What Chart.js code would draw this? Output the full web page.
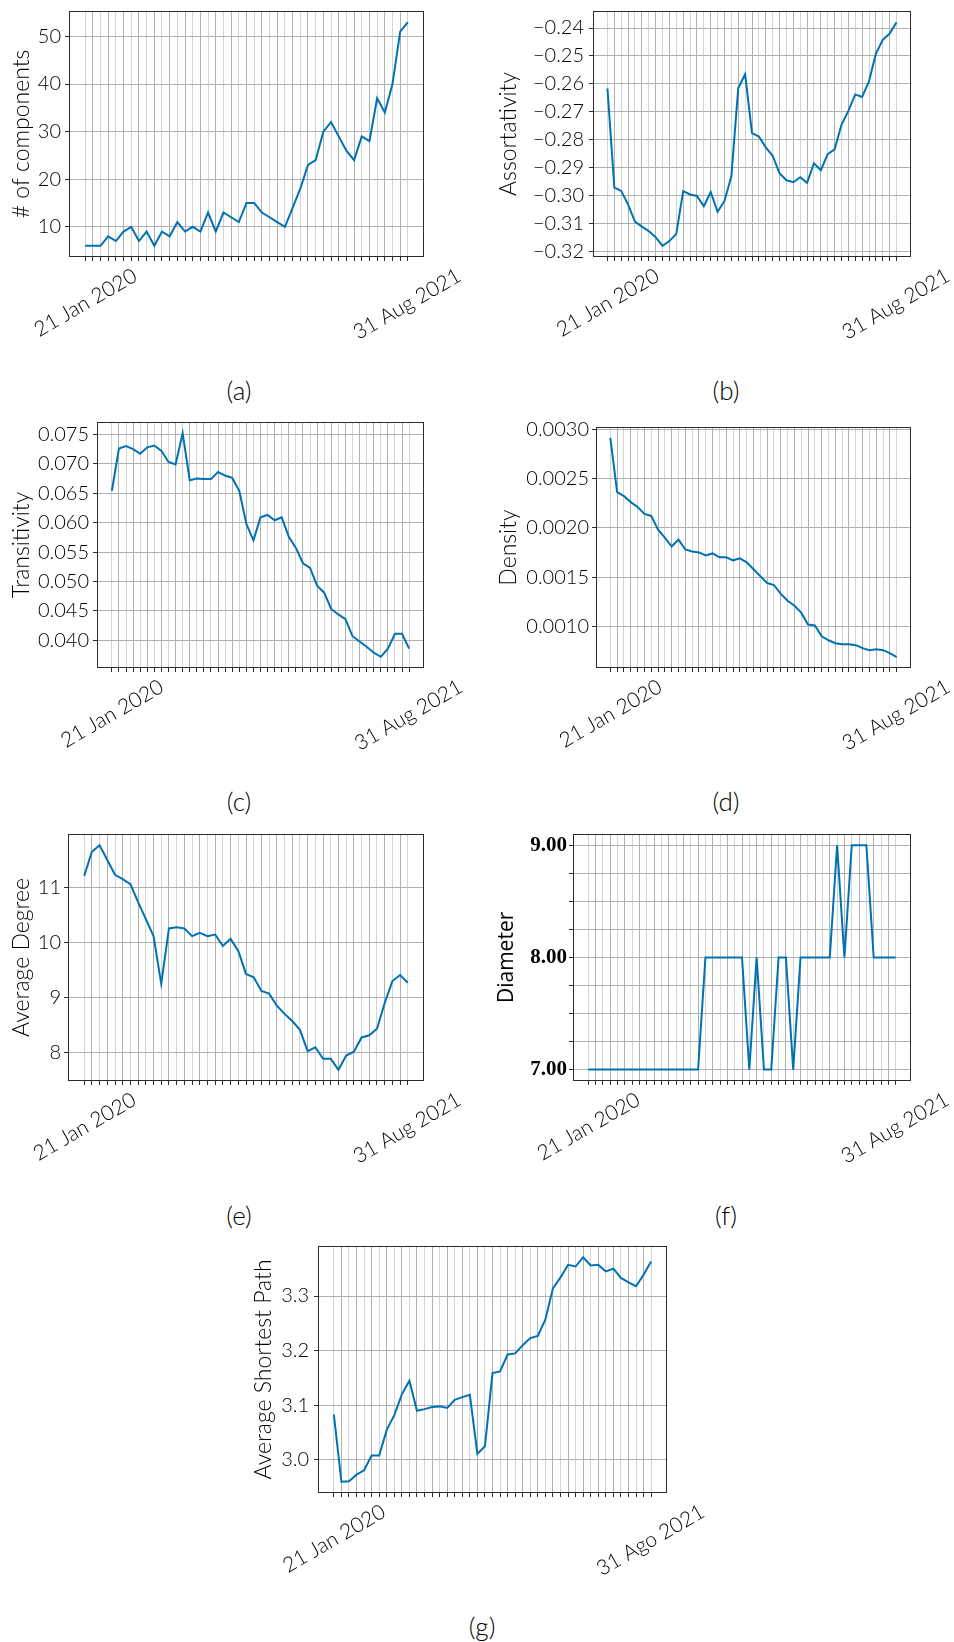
<!DOCTYPE html>
<html>
<head>
<meta charset="utf-8">
<script src="https://cdn.jsdelivr.net/npm/chart.js@4.4.1/dist/chart.umd.min.js"></script>
<style>
  html, body { margin: 0; padding: 0; background: #fff; }
  body { width: 954px; height: 1642px; position: relative; overflow: hidden; }
  canvas { position: absolute; }
  .cap { position: absolute; font-family: Lato, sans-serif; font-weight: 300; font-size: 26px;
         color: #000; transform: translate(-50%, -50%); white-space: nowrap; }
</style>
</head>
<body>
<div class="cap" style="left:239px;top:390px">(a)</div>
<div class="cap" style="left:726px;top:390px">(b)</div>
<div class="cap" style="left:239px;top:801px">(c)</div>
<div class="cap" style="left:726px;top:801px">(d)</div>
<div class="cap" style="left:239px;top:1215px">(e)</div>
<div class="cap" style="left:726px;top:1215px">(f)</div>
<div class="cap" style="left:482px;top:1626px">(g)</div>
<script>
// Snapshot index (one sample every ~2 weeks, 21 Jan 2020 → 31 Aug 2021)
const snapshots = Array.from({ length: 43 }, (_, i) => i);

// Tick labels on the time axis: first and last snapshot
const dateTickIdx = [0, 42];
const dateTickText = ['21 Jan 2020', '31 Aug 2021'];
const dateTickTextAlt = ['21 Jan 2020', '31 Ago 2021'];

// Network measures per snapshot
const components = [6, 6, 6, 8, 7, 9, 10, 7, 9, 6, 9, 8, 11, 9, 10, 9, 13, 9, 13, 12, 11, 15, 15, 13, 12, 11,
  10, 14, 18, 23, 24, 30, 32, 29, 26, 24, 29, 28, 37, 34, 40, 51, 53];

const assortativity = [-0.2617, -0.2972, -0.2984, -0.3033, -0.3094, -0.3112, -0.3128, -0.3150, -0.3181,
  -0.3164, -0.3138, -0.2985, -0.2997, -0.3002, -0.3039, -0.2988, -0.3059, -0.3020, -0.2932, -0.2616,
  -0.2566, -0.2777, -0.2789, -0.2828, -0.2858, -0.2921, -0.2946, -0.2953, -0.2935, -0.2955, -0.2885,
  -0.2910, -0.2852, -0.2835, -0.2747, -0.2697, -0.2638, -0.2647, -0.2591, -0.2492, -0.2442, -0.2420, -0.2379];

const transitivity = [0.0654, 0.0726, 0.0730, 0.0725, 0.0717, 0.0728, 0.0731, 0.0722, 0.0703, 0.0699,
  0.0752, 0.0672, 0.0675, 0.0674, 0.0674, 0.0686, 0.0680, 0.0676, 0.0654, 0.0598, 0.0570, 0.0609, 0.0613,
  0.0604, 0.0609, 0.0576, 0.0557, 0.0531, 0.0523, 0.0493, 0.0481, 0.0453, 0.0444, 0.0436, 0.0407, 0.0398,
  0.0389, 0.0379, 0.0372, 0.0386, 0.0411, 0.0411, 0.0386];

const density = [0.00291, 0.00236, 0.00232, 0.00226, 0.00221, 0.00214, 0.00212, 0.00198, 0.00190, 0.00181,
  0.00188, 0.00178, 0.00176, 0.00175, 0.00172, 0.00174, 0.00170, 0.00170, 0.00167, 0.00169, 0.00165,
  0.00158, 0.00151, 0.00144, 0.00142, 0.00133, 0.00126, 0.00121, 0.00114, 0.00102, 0.00101, 0.00090,
  0.00086, 0.00083, 0.00082, 0.00082, 0.00081, 0.00078, 0.00076, 0.00077, 0.00076, 0.00073, 0.00069];

const avgDegree = [11.22, 11.66, 11.78, 11.51, 11.24, 11.16, 11.07, 10.74, 10.43, 10.12, 9.25, 10.26, 10.28,
  10.26, 10.12, 10.18, 10.12, 10.15, 9.94, 10.07, 9.85, 9.43, 9.37, 9.12, 9.07, 8.85, 8.70, 8.57, 8.41,
  8.02, 8.09, 7.88, 7.88, 7.68, 7.94, 8.01, 8.27, 8.31, 8.43, 8.90, 9.30, 9.41, 9.27];

const diameter = [7, 7, 7, 7, 7, 7, 7, 7, 7, 7, 7, 7, 7, 7, 7, 7, 8, 8, 8, 8, 8, 8, 7, 8, 7, 7, 8, 8, 7,
  8, 8, 8, 8, 8, 9, 8, 9, 9, 9, 8, 8, 8, 8];

const avgShortestPath = [3.083, 2.960, 2.961, 2.973, 2.981, 3.008, 3.008, 3.055, 3.082, 3.120, 3.145, 3.090,
  3.093, 3.097, 3.098, 3.095, 3.110, 3.115, 3.119, 3.011, 3.025, 3.159, 3.162, 3.193, 3.195, 3.210, 3.223,
  3.227, 3.257, 3.314, 3.334, 3.357, 3.354, 3.371, 3.356, 3.357, 3.345, 3.350, 3.333, 3.325, 3.318, 3.339, 3.363];

// Value-axis ticks
const componentsTicks = [10, 20, 30, 40, 50];
const assortativityTicks = [-0.32, -0.31, -0.30, -0.29, -0.28, -0.27, -0.26, -0.25, -0.24];
const transitivityTicks = [0.040, 0.045, 0.050, 0.055, 0.060, 0.065, 0.070, 0.075];
const densityTicks = [0.0010, 0.0015, 0.0020, 0.0025, 0.0030];
const avgDegreeTicks = [8, 9, 10, 11];
const diameterTicks = [7, 7.25, 7.5, 7.75, 8, 8.25, 8.5, 8.75, 9];
const avgShortestPathTicks = [3.0, 3.1, 3.2, 3.3];

const LINE = '#0072b2';
const INK = '#000';
const SANS = 'Lato, sans-serif';

const minus = s => s.replace('-', '\u2212');

// Frame + rotated date labels, placed with the x scale
const panelDecor = {
  id: 'panelDecor',
  afterDraw(chart, args, opts) {
    const { ctx, chartArea: a } = chart;
    const xs = chart.scales.x;
    ctx.save();
    ctx.strokeStyle = '#2b2b2b';
    ctx.lineWidth = 1;
    ctx.strokeRect(Math.round(a.left) + 0.5, Math.round(a.top) + 0.5,
                   Math.round(a.right) - Math.round(a.left) - 1, Math.round(a.bottom) - Math.round(a.top) - 1);
    ctx.font = '300 21px ' + SANS;
    ctx.fillStyle = INK;
    const ang = Math.PI / 6;
    opts.idx.forEach((v, k) => {
      const t = opts.text[k];
      const m = ctx.measureText(t);
      const w = m.width, asc = m.actualBoundingBoxAscent, desc = m.actualBoundingBoxDescent;
      const H = w * Math.sin(ang) + (asc + desc) * Math.cos(ang);
      const cx = xs.getPixelForValue(v);
      const cy = a.bottom + 10 + H / 2;
      ctx.save();
      ctx.translate(cx, cy);
      ctx.rotate(-ang);
      ctx.textAlign = 'center';
      ctx.textBaseline = 'alphabetic';
      ctx.fillText(t, 0, (asc - desc) / 2);
      ctx.restore();
    });
    ctx.restore();
  }
};

function makePanel(p) {
  const cv = document.createElement('canvas');
  const cl = p.cellX, ct = p.box.t - 20;
  const W = p.cellW, H = Math.round(p.box.b - ct + 110);
  cv.width = W; cv.height = H;
  cv.style.left = cl + 'px'; cv.style.top = ct + 'px';
  cv.style.width = W + 'px'; cv.style.height = H + 'px';
  document.body.appendChild(cv);

  const titleFont = p.titleFont;
  const titleOffset = titleFont.size * titleFont.lineHeight / 2;
  const padLeft = p.titleX - titleOffset - cl;
  const yW = p.box.l - cl - padLeft;
  const xH = 10;
  const padTop = p.box.t - ct;
  const padRight = cl + W - p.box.r;
  const padBottom = ct + H - p.box.b - xH;

  const n = p.data.length;
  const lo = Math.min(...p.data), hi = Math.max(...p.data);
  const m = (hi - lo) * 0.05;

  new Chart(cv, {
    type: 'line',
    data: {
      datasets: [{
        data: p.data.map((v, i) => ({ x: snapshots[i], y: v })),
        borderColor: LINE, borderWidth: 2, pointRadius: 0, tension: 0, fill: false
      }]
    },
    options: {
      responsive: false, animation: false, devicePixelRatio: 1, events: [],
      layout: { padding: { left: padLeft, top: padTop, right: padRight, bottom: padBottom } },
      plugins: {
        legend: { display: false }, tooltip: { enabled: false },
        panelDecor: { idx: dateTickIdx, text: p.xText }
      },
      scales: {
        x: {
          type: 'linear', min: -0.05 * (n - 1), max: 1.05 * (n - 1),
          afterBuildTicks: s => { s.ticks = snapshots.map(v => ({ value: v })); },
          afterFit: s => { s.height = xH; },
          ticks: { display: false },
          grid: {
            color: c => (c.index % 2 ? '#b0b0b0' : '#d4d4d4'), lineWidth: 1,
            drawTicks: true, tickLength: 4, tickColor: '#2b2b2b', tickWidth: 1
          },
          border: { display: false }
        },
        y: {
          min: lo - m, max: hi + m,
          afterBuildTicks: s => { s.ticks = p.yTicks.map(v => ({ value: v })); },
          afterFit: s => { s.width = yW; },
          ticks: { callback: v => p.fmt(v), font: p.tickFont, color: INK, padding: p.tickPad },
          grid: {
            color: '#b0b0b0', lineWidth: 1, drawTicks: true, tickLength: 4,
            tickColor: '#2b2b2b', tickWidth: 1
          },
          border: { display: false },
          title: { display: true, text: p.yTitle, font: titleFont, color: INK, padding: 0 }
        }
      }
    },
    plugins: [panelDecor]
  });
}

const tickFont = { family: SANS, size: 20, weight: 300, lineHeight: 1.2 };
const titleFont = { family: SANS, size: 23, weight: 300, lineHeight: 1.2 };

makePanel({ cellX: 0, cellW: 477, box: { l: 69, t: 10.7, r: 424, b: 256.7 }, titleX: 22,
  data: components, yTicks: componentsTicks, fmt: v => String(v), yTitle: '# of components',
  tickFont, titleFont, tickPad: 4, xText: dateTickText });

makePanel({ cellX: 477, cellW: 477, box: { l: 593, t: 10.7, r: 911, b: 256.7 }, titleX: 509,
  data: assortativity, yTicks: assortativityTicks, fmt: v => minus(v.toFixed(2)), yTitle: 'Assortativity',
  tickFont, titleFont, tickPad: 5, xText: dateTickText });

makePanel({ cellX: 0, cellW: 477, box: { l: 97, t: 422.3, r: 424, b: 668.3 }, titleX: 22,
  data: transitivity, yTicks: transitivityTicks, fmt: v => v.toFixed(3), yTitle: 'Transitivity',
  tickFont, titleFont, tickPad: 4, xText: dateTickText });

makePanel({ cellX: 477, cellW: 477, box: { l: 596, t: 427.3, r: 911, b: 668.3 }, titleX: 509,
  data: density, yTicks: densityTicks, fmt: v => v.toFixed(4), yTitle: 'Density',
  tickFont, titleFont, tickPad: 3, xText: dateTickText });

makePanel({ cellX: 0, cellW: 477, box: { l: 68, t: 833.7, r: 424, b: 1080.7 }, titleX: 22,
  data: avgDegree, yTicks: avgDegreeTicks, fmt: v => String(v), yTitle: 'Average Degree',
  tickFont, titleFont, tickPad: 3, xText: dateTickText });

makePanel({ cellX: 477, cellW: 477, box: { l: 573, t: 833.7, r: 911, b: 1080.5 }, titleX: 507,
  data: diameter, yTicks: diameterTicks, fmt: v => (Number.isInteger(v) ? v.toFixed(2) : ''),
  yTitle: 'Diameter',
  tickFont: { family: '"Liberation Serif", serif', size: 21, weight: 'bold', lineHeight: 1.2 },
  titleFont: { family: '"Open Sans", sans-serif', size: 21, weight: 400, lineHeight: 1.2 },
  tickPad: 2, xText: dateTickText });

makePanel({ cellX: 200, cellW: 560, box: { l: 318, t: 1245.7, r: 667, b: 1492.7 }, titleX: 264,
  data: avgShortestPath, yTicks: avgShortestPathTicks, fmt: v => v.toFixed(1), yTitle: 'Average Shortest Path',
  tickFont, titleFont, tickPad: 5, xText: dateTickTextAlt });
</script>
</body>
</html>
